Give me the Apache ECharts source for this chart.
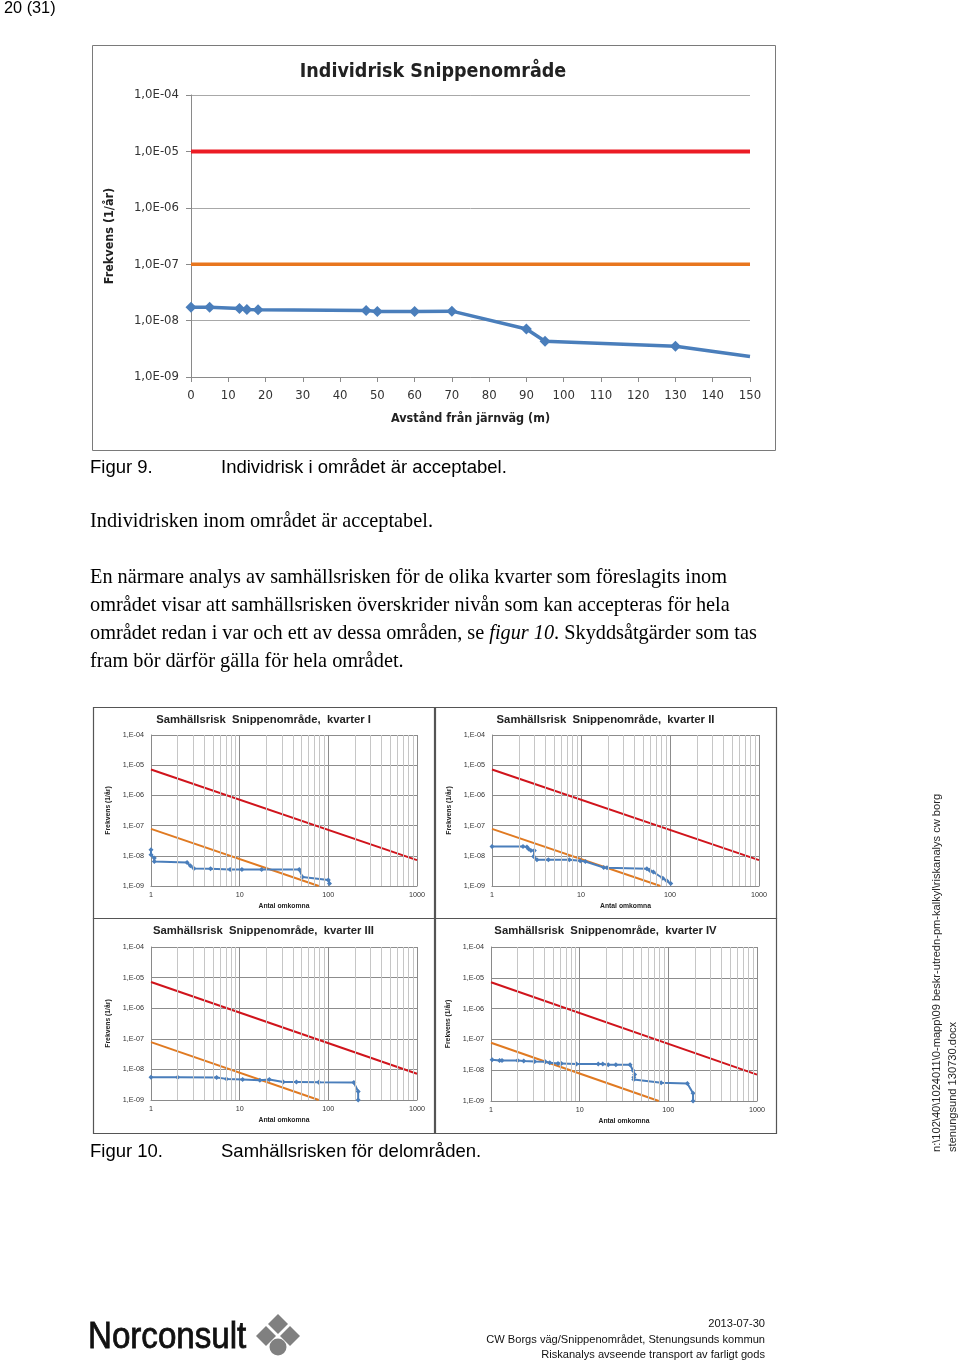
<!DOCTYPE html>
<html><head><meta charset="utf-8">
<script src="https://cdn.jsdelivr.net/npm/echarts@6/dist/echarts.min.js"></script>
<style>
body{margin:0;background:#fff;}
#page{position:relative;width:960px;height:1362px;overflow:hidden;background:#fff;}
#chart{position:absolute;left:0;top:0;width:960px;height:1362px;}
.t{position:absolute;white-space:nowrap;color:#000;}
.sans{font-family:"Liberation Sans",Arial,sans-serif;}
.serif{font-family:"Liberation Serif","Times New Roman",serif;}
</style></head><body>
<div id="page">
<div id="chart"></div>
<div class="t sans" style="left:4px;top:-2px;font-size:16.3px;line-height:19px;">20 (31)</div>
<div class="t sans" style="left:90px;top:456px;font-size:18.5px;line-height:22px;">Figur 9.</div>
<div class="t sans" style="left:221px;top:456px;font-size:18.5px;line-height:22px;">Individrisk i området är acceptabel.</div>
<div class="t serif" style="left:90px;top:506px;font-size:20.3px;line-height:28px;">Individrisken inom området är acceptabel.</div>
<div class="t serif" style="left:90px;top:562px;font-size:20.3px;line-height:28px;">En närmare analys av samhällsrisken för de olika kvarter som föreslagits inom<br>området visar att samhällsrisken överskrider nivån som kan accepteras för hela<br>området redan i var och ett av dessa områden, se <i>figur 10</i>. Skyddsåtgärder som tas<br>fram bör därför gälla för hela området.</div>
<div class="t sans" style="left:90px;top:1140px;font-size:18.5px;line-height:22px;">Figur 10.</div>
<div class="t sans" style="left:221px;top:1140px;font-size:18.5px;line-height:22px;">Samhällsrisken för delområden.</div>
<div class="t sans" style="left:928px;top:1152px;font-size:11.1px;line-height:16px;transform:rotate(-90deg);transform-origin:0 0;color:#222;">n:\102\40\1024011\0-mapp\09 beskr-utredn-pm-kalkyl\riskanalys cw borg<br>stenungsund 130730.docx</div>
<div class="t sans" style="left:88px;top:1316px;font-size:36px;line-height:40px;transform:scaleX(0.92);transform-origin:0 0;color:#111;-webkit-text-stroke:0.8px #111;">Norconsult</div>
<svg style="position:absolute;left:250px;top:1312px;" width="56" height="50" viewBox="0 0 56 50">
 <g fill="#808080">
  <polygon points="28,2 38,12 28,22 18,12"/>
  <polygon points="16,14 26,24 16,34 6,24"/>
  <polygon points="40,14 50,24 40,34 30,24"/>
  <circle cx="28" cy="35" r="8.5"/>
 </g>
</svg>
<div class="t sans" style="right:195px;top:1316px;font-size:11.1px;line-height:15.5px;text-align:right;color:#111;">2013-07-30<br>CW Borgs väg/Snippenområdet, Stenungsunds kommun<br>Riskanalys avseende transport av farligt gods</div>
</div>
<script>
// ---- Figur 9: Individrisk ----
const mainDist = [0, 5, 13, 15, 18, 47, 50, 60, 70, 90, 95, 130, 150];
const mainFreq = [1.73e-8, 1.73e-8, 1.64e-8, 1.57e-8, 1.55e-8, 1.51e-8, 1.45e-8, 1.45e-8, 1.47e-8, 7.1e-9, 4.3e-9, 3.5e-9, 2.3e-9];
const mainUpperLimit = 1e-5;
const mainLowerLimit = 1e-7;
const mainXTicks = [0, 10, 20, 30, 40, 50, 60, 70, 80, 90, 100, 110, 120, 130, 140, 150];

// ---- Figur 10: Samhällsrisk (F/N) ----
const kvarterTitles = ['Samhällsrisk  Snippenområde,  kvarter I', 'Samhällsrisk  Snippenområde,  kvarter II',
  'Samhällsrisk  Snippenområde,  kvarter III', 'Samhällsrisk  Snippenområde,  kvarter IV'];
const kvI_N = [1, 1, 1.09, 1.09, 2.55, 2.78, 3.05, 4.7, 7.8, 10.6, 17.7, 47, 51, 100, 103];
const kvI_F = [1.58e-8, 1.08e-8, 8.4e-9, 6.5e-9, 6.0e-9, 4.7e-9, 3.8e-9, 3.7e-9, 3.5e-9, 3.5e-9, 3.5e-9, 3.5e-9, 2.0e-9, 1.57e-9, 1.2e-9];
const kvII_N = [1, 2.23, 2.47, 2.58, 2.74, 2.99, 2.94, 3.2, 4.3, 7.4, 9.8, 11.2, 18, 19.6, 55, 59, 65, 83, 92, 102];
const kvII_F = [2.05e-8, 2.05e-8, 1.95e-8, 1.67e-8, 1.5e-8, 1.5e-8, 9.5e-9, 7.4e-9, 7.4e-9, 7.4e-9, 6.8e-9, 6.5e-9, 4.1e-9, 4.0e-9, 3.7e-9, 3.3e-9, 2.9e-9, 1.8e-9, 1.5e-9, 1.2e-9];
const kvIII_N = [1, 2.0, 5.5, 7.1, 10.8, 16.9, 21.6, 31, 43.7, 78, 194, 217, 217];
const kvIII_F = [5.5e-9, 5.5e-9, 5.4e-9, 4.9e-9, 4.7e-9, 4.4e-9, 4.7e-9, 3.9e-9, 3.9e-9, 3.8e-9, 3.7e-9, 1.9e-9, 1.0e-9];
const kvIV_N = [1.03, 1.25, 1.33, 2.0, 2.34, 3.1, 4.1, 4.6, 5.7, 6.2, 9.2, 16.2, 18.2, 21, 25.6, 37, 40, 41.7, 40.8, 40.8, 83, 164, 190, 190];
const kvIV_F = [2.2e-8, 2.07e-8, 2.07e-8, 2.07e-8, 2.0e-8, 1.9e-8, 1.87e-8, 1.73e-8, 1.65e-8, 1.65e-8, 1.6e-8, 1.6e-8, 1.6e-8, 1.5e-8, 1.5e-8, 1.5e-8, 9.8e-9, 7.2e-9, 5.9e-9, 5.0e-9, 3.9e-9, 3.7e-9, 1.8e-9, 1.0e-9];
const upperCriterionN = [1, 1000];
const upperCriterionF = [7.2e-6, 7.2e-9];
const lowerCriterionN = [1, 78];
const lowerCriterionF = [7.8e-8, 1.0e-9];

const CAL = '"Liberation Sans Narrow","DejaVu Sans Condensed","Liberation Sans",sans-serif';
const CALB = '"Liberation Sans","DejaVu Sans",sans-serif';
const zip = (a, b) => a.map((v, i) => [v, b[i]]);
const expLabel = (v, pre) => pre + String(-Math.round(Math.log10(v))).padStart(2, '0');

const chart = echarts.init(document.getElementById('chart'), null, {renderer: 'canvas'});

const grids = [], xAxes = [], yAxes = [], series = [], graphics = [];

// main chart
grids.push({left: 191, right: 960 - 750, top: 95, bottom: 1362 - 377});
xAxes.push({
  type: 'value', gridIndex: 0, min: 0, max: 150, interval: 10,
  name: 'Avstånd från järnväg (m)', nameLocation: 'middle', nameGap: 35,
  nameTextStyle: {fontFamily: CAL, fontSize: 12.5, fontWeight: 'bold', color: '#222'},
  axisLine: {onZero: false, lineStyle: {color: '#8a8a8a'}},
  axisTick: {show: true, length: 5, lineStyle: {color: '#8a8a8a'}},
  axisLabel: {fontFamily: CAL, fontSize: 13, color: '#333', margin: 12, formatter: v => mainXTicks.includes(v) ? String(v) : ''},
  splitLine: {show: false}
});
yAxes.push({
  type: 'log', logBase: 10, gridIndex: 0, min: 1e-9, max: 1e-4,
  name: 'Frekvens (1/år)', nameLocation: 'middle', nameGap: 75,
  nameTextStyle: {fontFamily: CAL, fontSize: 12.5, fontWeight: 'bold', color: '#222'},
  axisLine: {show: true, lineStyle: {color: '#8a8a8a'}},
  axisTick: {show: true, length: 5, lineStyle: {color: '#8a8a8a'}},
  axisLabel: {fontFamily: CAL, fontSize: 13, color: '#333', margin: 12, formatter: v => expLabel(v, '1,0E-')},
  splitLine: {show: true, lineStyle: {color: '#a8a8a8', width: 1}}
});
series.push({type: 'line', xAxisIndex: 0, yAxisIndex: 0, data: [[0, mainUpperLimit], [150, mainUpperLimit]],
  symbol: 'none', lineStyle: {color: '#ec1c24', width: 4}, z: 3});
series.push({type: 'line', xAxisIndex: 0, yAxisIndex: 0, data: [[0, mainLowerLimit], [150, mainLowerLimit]],
  symbol: 'none', lineStyle: {color: '#e8761e', width: 3.5}, z: 3});
series.push({type: 'line', xAxisIndex: 0, yAxisIndex: 0,
  data: zip(mainDist, mainFreq).map((p, i, arr) => i === arr.length - 1 ? {value: p, symbol: 'none'} : p),
  symbol: 'diamond', symbolSize: 11, itemStyle: {color: '#4a7ebb'}, lineStyle: {color: '#4a7ebb', width: 3.5}, z: 4});
graphics.push({type: 'rect', shape: {x: 92.5, y: 45.5, width: 683, height: 405}, style: {fill: 'none', stroke: '#7a7a7a', lineWidth: 1}, silent: true});
graphics.push({type: 'text', x: 433, y: 72, style: {text: 'Individrisk Snippenområde', font: 'bold 19.5px ' + CAL, fill: '#222', textAlign: 'center', textVerticalAlign: 'middle'}});

// small charts
const minorX = [], minorY = [];
for (let e = 0; e < 3; e++) for (let k = 2; k < 10; k++) minorX.push(k * Math.pow(10, e));
for (let e = -9; e < -4; e++) for (let k = 2; k < 10; k++) minorY.push(k * Math.pow(10, e));

const smallData = [[kvI_N, kvI_F], [kvII_N, kvII_F], [kvIII_N, kvIII_F], [kvIV_N, kvIV_F]];
const smallPlot = [
  {l: 151, r: 417, t: 735, b: 886, box: [93, 707, 341, 211]},
  {l: 492, r: 759, t: 735, b: 886, box: [435, 707, 341, 211]},
  {l: 151, r: 417, t: 947, b: 1100, box: [93, 918, 341, 215]},
  {l: 491, r: 757, t: 947, b: 1101, box: [435, 918, 341, 215]}
];
smallPlot.forEach((p, i) => {
  const gi = i + 1;
  grids.push({left: p.l, right: 960 - p.r, top: p.t, bottom: 1362 - p.b});
  xAxes.push({
    type: 'log', logBase: 10, gridIndex: gi, min: 1, max: 1000,
    name: 'Antal omkomna', nameLocation: 'middle', nameGap: 17,
    nameTextStyle: {fontFamily: CALB, fontSize: 6.8, fontWeight: 'bold', color: '#222'},
    axisLine: {onZero: false, lineStyle: {color: '#8a8a8a'}},
    axisTick: {show: false},
    axisLabel: {fontFamily: CALB, fontSize: 7.2, color: '#333', margin: 6, formatter: v => String(Math.round(v))},
    splitLine: {show: true, lineStyle: {color: '#8c8c8c', width: 1}}
  });
  yAxes.push({
    type: 'log', logBase: 10, gridIndex: gi, min: 1e-9, max: 1e-4,
    name: 'Frekvens (1/år)', nameLocation: 'middle', nameGap: 39,
    nameTextStyle: {fontFamily: CALB, fontSize: 6.8, fontWeight: 'bold', color: '#222'},
    axisLine: {show: true, lineStyle: {color: '#8a8a8a'}},
    axisTick: {show: false},
    axisLabel: {fontFamily: CALB, fontSize: 7.2, color: '#333', margin: 7, formatter: v => expLabel(v, '1,E-')},
    splitLine: {show: true, lineStyle: {color: '#8c8c8c', width: 1}}
  });
  series.push({type: 'line', xAxisIndex: gi, yAxisIndex: gi, data: [[1, 1e-9]], symbol: 'none', silent: true, z: 1,
    lineStyle: {width: 0},
    markLine: {silent: true, symbol: ['none', 'none'], label: {show: false}, animation: false,
      lineStyle: {color: '#c6c6c6', width: 1, type: 'solid'},
      emphasis: {disabled: true},
      data: minorX.map(v => ({xAxis: v})).concat(minorY.map(v => ({yAxis: v})))}
  });
  series.push({type: 'line', xAxisIndex: gi, yAxisIndex: gi, data: zip(upperCriterionN, upperCriterionF),
    symbol: 'none', lineStyle: {color: '#d0141c', width: 2}, z: 3});
  series.push({type: 'line', xAxisIndex: gi, yAxisIndex: gi, data: zip(lowerCriterionN, lowerCriterionF),
    symbol: 'none', lineStyle: {color: '#e07a22', width: 2}, z: 3});
  series.push({type: 'line', xAxisIndex: gi, yAxisIndex: gi, data: zip(smallData[i][0], smallData[i][1]),
    symbol: 'diamond', symbolSize: 5, itemStyle: {color: '#4a7ebb'}, lineStyle: {color: '#4a7ebb', width: 2}, z: 4});
  graphics.push({type: 'rect', shape: {x: p.box[0] + 0.5, y: p.box[1] + 0.5, width: p.box[2], height: p.box[3]},
    style: {fill: 'none', stroke: '#555', lineWidth: 1.2}, silent: true});
  graphics.push({type: 'text', x: p.box[0] + p.box[2] / 2, y: p.box[1] + 13,
    style: {text: kvarterTitles[i], font: 'bold 11.3px ' + CALB, fill: '#222', textAlign: 'center', textVerticalAlign: 'middle'}});
});

chart.setOption({
  animation: false,
  backgroundColor: 'transparent',
  grid: grids, xAxis: xAxes, yAxis: yAxes, series: series,
  graphic: graphics
});
</script>
</body></html>
